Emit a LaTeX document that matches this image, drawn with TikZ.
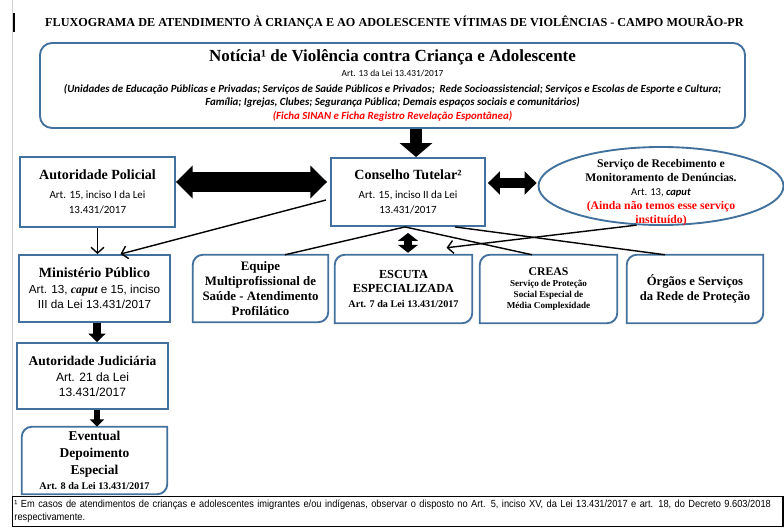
\documentclass[tikz,border=0pt]{standalone}
\usepackage{fontspec}
\setmainfont{Liberation Serif}
\newfontfamily\calibri{Carlito}
\newfontfamily\arialfont{Liberation Sans}
\newfontfamily\narrowfont[FakeStretch=0.9]{Liberation Sans}
\usetikzlibrary{arrows.meta,shapes.geometric,calc}
\definecolor{boxblue}{HTML}{41719C}
\definecolor{notered}{HTML}{FF0000}

% frame with rounded top-left and bottom-right corners
\newcommand{\diagframe}[1]{%
  \draw[boxblue, line width=1.6pt]
    ([xshift=0.3cm]#1.north west) -- (#1.north east)
    -- ([yshift=0.3cm]#1.south east) arc[start angle=0, end angle=-90, radius=0.3cm]
    -- (#1.south west) -- ([yshift=-0.3cm]#1.north west)
    arc[start angle=180, end angle=90, radius=0.3cm] -- cycle;}

\begin{document}
\begin{tikzpicture}[
    x=0.03cm, y=0.03cm,
    box/.style={
        rectangle,
        draw=boxblue,
        line width=1.6pt,
        align=center,
        inner sep=1pt
    },
    diag/.style={
        rectangle,
        align=center,
        inner sep=1pt
    },
    link/.style={line width=1.2pt},
    thinarrow/.style={line width=1.2pt, -{Straight Barb[length=5pt,width=11pt]}},
    fatdown/.style={line width=0.36cm, -{Triangle[length=0.42cm,width=0.96cm]}},
    fatboth/.style={line width=0.6cm, {Triangle[length=0.5cm,width=0.96cm]}-{Triangle[length=0.5cm,width=0.96cm]}},
    midboth/.style={line width=0.3cm, {Triangle[length=0.36cm,width=0.69cm]}-{Triangle[length=0.36cm,width=0.69cm]}},
    smallboth/.style={line width=0.26cm, {Triangle[length=0.24cm,width=0.6cm]}-{Triangle[length=0.24cm,width=0.6cm]}}
]
\useasboundingbox (0,0) rectangle (784,527);

% page marks
\draw[gray!35, line width=0.8pt] (12,30) -- (12,527);
\draw[line width=1.5pt] (14,495) -- (14,514);

% title
\node[anchor=west, inner sep=0pt, font=\bfseries\fontsize{10.4}{12}\selectfont] (title) at (45,505)
    {FLUXOGRAMA DE ATENDIMENTO À CRIANÇA E AO ADOLESCENTE VÍTIMAS DE VIOLÊNCIAS - CAMPO MOURÃO-PR};

% notice
\node[box, rounded corners=0.36cm, minimum width=21.15cm, minimum height=2.55cm,
      font=\fontsize{9.3}{11.6}\selectfont] (news) at (392.5,441.5)
    {{\bfseries\fontsize{14.5}{16}\selectfont Notícia¹ de Violência contra Criança e Adolescente}\\[1pt]
     {\calibri\fontsize{8}{10}\selectfont Art. 13 da Lei 13.431/2017}\\[2pt]
     {\calibri\bfseries\itshape (Unidades de Educação Públicas e Privadas; Serviços de Saúde Públicos e Privados;~ Rede Socioassistencial; Serviços e Escolas de Esporte e Cultura;}\\
     {\calibri\bfseries\itshape Família; Igrejas, Clubes; Segurança Pública; Demais espaços sociais e comunitários)}\\[0.5pt]
     {\calibri\bfseries\itshape\color{notered}(Ficha SINAN e Ficha Registro Revelação Espontânea)}};

% second row
\node[box, minimum width=4.65cm, minimum height=2.1cm, font=\fontsize{9.4}{12.8}\selectfont] (ap) at (97.5,335)
    {{\bfseries\fontsize{12}{14}\selectfont Autoridade Policial}\\[3pt]
     {\calibri Art. 15, inciso I da Lei}\\
     {\calibri 13.431/2017}};
\node[box, minimum width=4.62cm, minimum height=2.04cm, font=\fontsize{9.4}{12.8}\selectfont] (ct) at (408,335)
    {{\bfseries\fontsize{12}{14}\selectfont Conselho Tutelar²}\\[3pt]
     {\calibri Art. 15, inciso II da Lei}\\
     {\calibri 13.431/2017}};
\node[ellipse, draw=boxblue, line width=1.6pt, minimum width=7.35cm, minimum height=2.34cm, inner sep=0pt] (el) at (661,341) {};
\node[align=center, inner sep=0pt, font=\fontsize{10}{12}\selectfont] (elText) at (661,334.5)
    {{\bfseries Serviço de Recebimento e}\\
     {\bfseries Monitoramento de Denúncias.}\\
     {\calibri\fontsize{9}{11}\selectfont Art. 13, \textbf{\textit{caput}}}\\
     {\bfseries\color{notered}(Ainda não temos esse serviço}\\
     {\bfseries\color{notered}instituído)}};

% third row
\node[box, minimum width=4.53cm, minimum height=2.01cm, font=\fontsize{10}{12.8}\selectfont] (mp) at (94.5,238.5)
    {{\bfseries\fontsize{12}{14}\selectfont Ministério Público}\\[1pt]
     {\arialfont Art. 13, {\rmfamily\bfseries\itshape caput} e 15, inciso}\\
     {\arialfont III da Lei 13.431/2017}};
\node[diag, minimum width=4.05cm, minimum height=2.01cm, font=\bfseries\fontsize{11}{12.6}\selectfont] (eq) at (260.5,238.5)
    {Equipe\\Multiprofissional de\\Saúde - Atendimento\\Profilático};
\node[diag, minimum width=4.11cm, minimum height=2.04cm, font=\bfseries\fontsize{10.5}{12.6}\selectfont] (esc) at (403.5,238)
    {ESCUTA\\ESPECIALIZADA\\{\fontsize{8.7}{10}\selectfont Art. 7 da Lei 13.431/2017}};
\node[diag, minimum width=4.11cm, minimum height=2.04cm, font=\bfseries\fontsize{7.8}{9.6}\selectfont] (creas) at (548.5,238)
    {{\fontsize{10}{12}\selectfont CREAS}\\Serviço de Proteção\\Social Especial de\\Média Complexidade};
\node[diag, minimum width=4.08cm, minimum height=2.04cm, font=\bfseries\fontsize{10.8}{12.6}\selectfont] (org) at (695,238)
    {Órgãos e Serviços\\da Rede de Proteção};

% left column
\node[box, minimum width=4.53cm, minimum height=1.98cm, font=\fontsize{10.3}{12.8}\selectfont] (aj) at (92.5,151)
    {{\bfseries\fontsize{11.5}{14}\selectfont Autoridade Judiciária}\\[1pt]
     {\arialfont Art. 21 da Lei}\\
     {\arialfont 13.431/2017}};
\node[diag, minimum width=4.35cm, minimum height=2.01cm, font=\bfseries\fontsize{11.5}{14.5}\selectfont] (ev) at (94.5,66.5)
    {Eventual\\Depoimento\\Especial\\[-2pt]{\fontsize{8.7}{10}\selectfont Art. 8 da Lei 13.431/2017}};

\foreach \n in {eq,esc,creas,org,ev}
    \diagframe{\n};

% thick arrows
\coordinate (dropTop) at ($(news.south)+(23.5,0)$);
\draw[fatdown] (dropTop) -- (dropTop |- ct.north);
\draw[fatboth] ($(ap.east)+(0,10)$) -- ($(ct.west)+(-3,10)$);
\draw[midboth] ($(ct.east)+(2,9)$) -- ($(el.west)+(-1,3)$);
\draw[smallboth] ($(ct.south)+(0,-6)$) -- ($(esc.north)+(4.5,2)$);
\draw[line width=0.22cm, -{Triangle[length=0.25cm,width=0.5cm]}] ($(mp.south)+(2.5,0)$) -- ($(aj.north)+(4.5,0)$);
\draw[line width=0.16cm, -{Triangle[length=0.22cm,width=0.42cm]}] ($(aj.south)+(4.5,0)$) -- ($(ev.north)+(2.5,0)$);

% thin connectors
\draw[thinarrow] (ap.south) -- (ap.south |- mp.north);
\draw[thinarrow] ($(ct.west)+(-4,-8)$) -- ($(mp.north)+(26,0)$);
\draw[link] ($(ct.south)+(-3,0)$) -- ($(eq.north)+(24.5,0)$);
\draw[link] ($(ct.south)+(-3,0)$) -- ($(creas.north)+(-16.5,0)$);
\draw[link] ($(ct.south)+(47,0)$) -- ($(org.north)+(-30,0)$);
\draw[thinarrow] (el.238) -- ($(esc.north)+(43,7)$);

% footnote
\node[draw, line width=1.2pt, anchor=south west, minimum height=0.9cm, text width=23cm,
      align=left, inner sep=1.5pt, font=\narrowfont\fontsize{8.8}{10.5}\selectfont] (note) at (12,0)
    {\mbox{¹ Em casos de atendimentos de crianças e adolescentes imigrantes e/ou indígenas, observar o disposto no Art. 5, inciso XV, da Lei 13.431/2017 e art. 18, do Decreto 9.603/2018}\\
     respectivamente.};

\end{tikzpicture}
\end{document}
